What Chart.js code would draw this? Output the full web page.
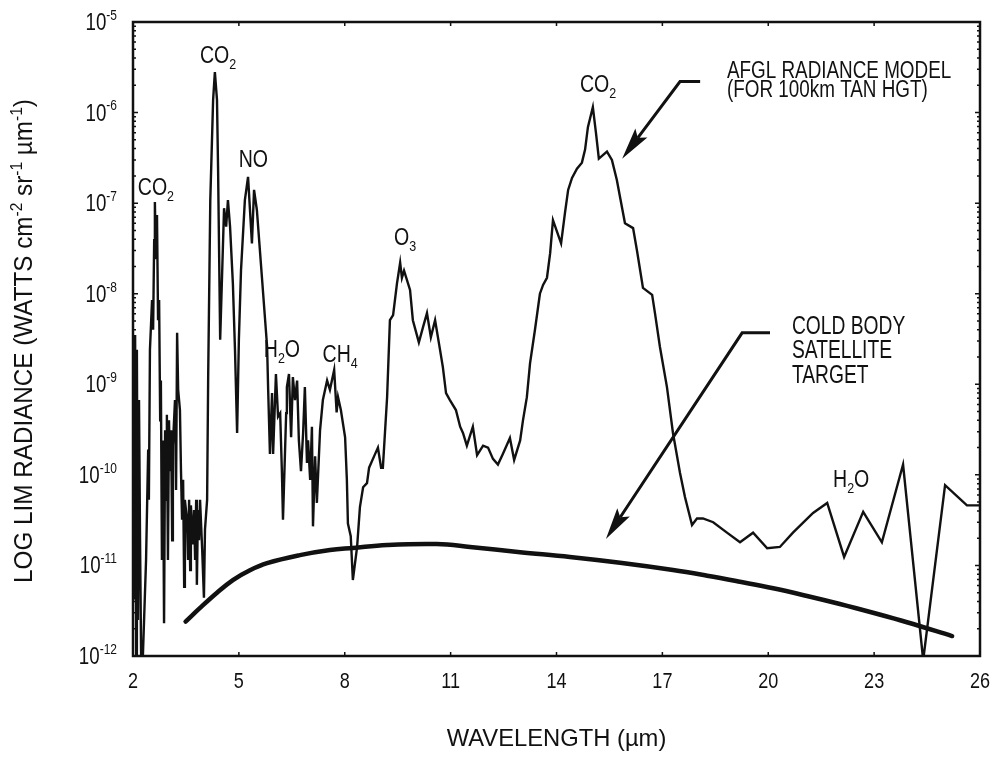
<!DOCTYPE html>
<html>
<head>
<meta charset="utf-8">
<script src="https://cdn.jsdelivr.net/npm/chart.js@4.4.1/dist/chart.umd.min.js"></script>
<style>
html, body { margin: 0; padding: 0; background: #fff; }
</style>
</head>
<body>
<canvas id="radChart" width="992" height="757"></canvas>
<script>
// AFGL radiance model, 100 km tangent height (wavelength in um, radiance W cm-2 sr-1 um-1)
var specWave = [
  2.00, 2.03, 2.06, 2.09, 2.11, 2.14, 2.17, 2.20, 2.23, 2.28,
  2.37, 2.43, 2.45, 2.48, 2.54, 2.57, 2.60, 2.62, 2.65, 2.68,
  2.71, 2.74, 2.77, 2.79, 2.82, 2.85, 2.88, 2.91, 2.94, 2.96,
  2.99, 3.02, 3.05, 3.08, 3.11, 3.13, 3.19, 3.22, 3.25, 3.28,
  3.33, 3.36, 3.39, 3.42, 3.45, 3.47, 3.53, 3.56, 3.59, 3.62,
  3.64, 3.70, 3.73, 3.76, 3.79, 3.81, 3.84, 3.87, 3.90, 3.96,
  4.01, 4.04, 4.10, 4.13, 4.19, 4.27, 4.32, 4.38, 4.41, 4.47,
  4.58, 4.64, 4.69, 4.75, 4.83, 4.89, 4.95, 5.00, 5.06, 5.17,
  5.26, 5.37, 5.43, 5.51, 5.66, 5.80, 5.83, 5.88, 5.94, 5.97,
  6.05, 6.11, 6.17, 6.22, 6.25, 6.34, 6.36, 6.42, 6.48, 6.53,
  6.59, 6.65, 6.70, 6.76, 6.82, 6.87, 6.93, 6.96, 7.02, 7.07,
  7.10, 7.16, 7.21, 7.30, 7.38, 7.50, 7.58, 7.70, 7.77, 7.81,
  7.89, 8.01, 8.06, 8.09, 8.17, 8.23, 8.35, 8.43, 8.52, 8.63,
  8.69, 8.83, 8.94, 9.03, 9.08, 9.20, 9.28, 9.37, 9.48, 9.57,
  9.62, 9.68, 9.85, 9.93, 10.10, 10.22, 10.33, 10.44, 10.56, 10.70,
  10.78, 10.87, 10.98, 11.15, 11.27, 11.35, 11.46, 11.63, 11.75, 11.92,
  12.06, 12.20, 12.34, 12.48, 12.68, 12.80, 12.97, 13.05, 13.16, 13.25,
  13.39, 13.53, 13.62, 13.73, 13.82, 13.90, 14.13, 14.24, 14.33, 14.44,
  14.58, 14.72, 14.81, 14.89, 15.03, 15.12, 15.20, 15.43, 15.57, 15.71,
  15.80, 15.94, 16.17, 16.28, 16.45, 16.71, 16.79, 16.93, 17.13, 17.30,
  17.50, 17.64, 17.84, 17.98, 18.15, 18.44, 18.83, 19.20, 19.57, 19.97,
  20.33, 20.70, 21.27, 21.67, 22.15, 22.69, 23.22, 23.82, 24.39, 25.01, 25.63, 26.00
];
var specRad = [
  3.1e-9, 4.2e-12, 3.5e-9, 1e-12, 2.4e-9, 2.5e-12, 6.7e-10, 1.9e-11, 1e-12, 1e-12,
  1.15e-11, 1.9e-10, 5.3e-11, 2.4e-9, 8.5e-9, 4.0e-9, 3.9e-8, 1.03e-7, 2.4e-8, 7.4e-8,
  5.1e-9, 8.5e-9, 4.0e-10, 1.1e-9, 1.15e-11, 2.4e-10, 2.3e-12, 3.1e-10, 5.3e-11, 4.6e-10,
  1.15e-11, 4.0e-10, 1.1e-10, 3.1e-10, 1.9e-11, 2.1e-10, 6.7e-10, 6.8e-11, 3.7e-9, 8.7e-10,
  5.2e-10, 1.1e-10, 3.2e-11, 8.8e-11, 5.8e-12, 5.3e-11, 3.2e-11, 1.15e-11, 5.3e-11, 8.9e-12,
  4.6e-11, 1.7e-11, 4.1e-11, 1.15e-11, 5.3e-11, 6.1e-12, 4.1e-11, 1.9e-11, 5.3e-11, 1.5e-11,
  4.4e-12, 2.5e-11, 5.3e-11, 1.2e-9, 1.08e-7, 1.38e-6, 2.8e-6, 1.38e-6, 2.5e-7, 3.1e-9,
  8.8e-8, 5.5e-8, 1.08e-7, 5.5e-8, 1.3e-8, 2.4e-9, 2.9e-10, 3.1e-9, 1.8e-8, 1.08e-7,
  1.95e-7, 3.6e-8, 1.4e-7, 8.4e-8, 1.4e-8, 2.6e-9, 8.7e-10, 1.7e-10, 8.0e-10, 1.7e-10,
  1.3e-9, 4.4e-10, 4.8e-10, 1.05e-10, 3.2e-11, 4.8e-10, 9.3e-10, 1.3e-9, 2.6e-10, 1.2e-9,
  6.7e-10, 1.1e-9, 2.4e-10, 1.1e-10, 2.9e-10, 9.3e-10, 1.35e-10, 2.4e-10, 8.8e-11, 3.4e-10,
  2.7e-11, 1.6e-10, 4.9e-11, 3.1e-10, 6.7e-10, 1.1e-9, 8.7e-10, 1.44e-9, 4.9e-10, 7.2e-10,
  5.2e-10, 2.6e-10, 8.8e-11, 2.9e-11, 2.1e-11, 6.9e-12, 1.6e-11, 4.4e-11, 7.3e-11, 8.1e-11,
  1.2e-10, 1.6e-10, 2.0e-10, 1.2e-10, 1.2e-10, 7.2e-10, 5.1e-9, 5.8e-9, 1.3e-8, 2.2e-8,
  1.5e-8, 1.8e-8, 1.1e-8, 5.1e-9, 2.9e-9, 4.3e-9, 6.1e-9, 3.3e-9, 5.1e-9, 2.4e-9,
  1.55e-9, 8.0e-10, 6.7e-10, 5.2e-10, 3.4e-10, 2.9e-10, 2.1e-10, 3.4e-10, 1.65e-10, 2.1e-10,
  2.0e-10, 1.5e-10, 1.3e-10, 1.7e-10, 2.55e-10, 1.46e-10, 2.4e-10, 4.0e-10, 7.2e-10, 1.7e-9,
  4.0e-9, 1.0e-8, 1.25e-8, 1.5e-8, 2.8e-8, 6.5e-8, 3.6e-8, 7.8e-8, 1.4e-7, 1.9e-7,
  2.4e-7, 2.8e-7, 3.9e-7, 6.9e-7, 1.15e-6, 5.9e-7, 3.1e-7, 3.7e-7, 3.0e-7, 1.8e-7,
  1.17e-7, 6.0e-8, 5.3e-8, 3.0e-8, 1.16e-8, 9.7e-9, 6.1e-9, 2.6e-9, 9.3e-10, 2.9e-10,
  1.05e-10, 5.7e-11, 2.8e-11, 3.3e-11, 3.3e-11, 3.0e-11, 2.3e-11, 1.8e-11, 2.3e-11, 1.55e-11,
  1.6e-11, 2.3e-11, 3.8e-11, 4.9e-11, 1.24e-11, 3.9e-11, 1.8e-11, 1.3e-10, 9e-13, 7.7e-11, 4.6e-11, 4.6e-11
];

// cold body satellite target
var bodyWave = [3.49, 3.90, 4.38, 4.83, 5.30, 5.80, 6.73, 7.58, 8.23, 9.20, 10.61, 11.55, 12.97,
  14.38, 15.80, 17.30, 18.27, 19.20, 20.14, 21.10, 22.03, 22.97, 23.93, 25.21];
var bodyRad = [2.4e-12, 3.4e-12, 5.0e-12, 6.9e-12, 8.8e-12, 1.06e-11, 1.3e-11, 1.48e-11, 1.56e-11, 1.68e-11, 1.72e-11, 1.6e-11, 1.4e-11,
  1.24e-11, 1.07e-11, 8.9e-12, 7.7e-12, 6.6e-12, 5.6e-12, 4.6e-12, 3.75e-12, 3.0e-12, 2.36e-12, 1.66e-12];

var xTicks = [2, 5, 8, 11, 14, 17, 20, 23, 26];
var yTicks = [1e-5, 1e-6, 1e-7, 1e-8, 1e-9, 1e-10, 1e-11, 1e-12];
var yTickExp = ['-5', '-6', '-7', '-8', '-9', '-10', '-11', '-12'];

// labels: parts are [text, 0 normal / 1 subscript / 2 superscript]
var peakLabels = [
  { parts: [['CO', 0], ['2', 1]], x: 2.65, y: 1.23e-7 },
  { parts: [['CO', 0], ['2', 1]], x: 4.41, y: 3.5e-6 },
  { parts: [['NO', 0]], x: 5.41, y: 2.5e-7 },
  { parts: [['H', 0], ['2', 1], ['O', 0]], x: 6.22, y: 2.0e-9 },
  { parts: [['CH', 0], ['4', 1]], x: 7.87, y: 1.76e-9 },
  { parts: [['O', 0], ['3', 1]], x: 9.71, y: 3.45e-8 },
  { parts: [['CO', 0], ['2', 1]], x: 15.18, y: 1.69e-6 },
  { parts: [['H', 0], ['2', 1], ['O', 0]], x: 22.35, y: 7.3e-11 }
];
var notes = [
  { lines: ['AFGL RADIANCE MODEL', '(FOR 100km TAN HGT)'], x: 18.83, y: 2.4e-6, size: 23, gap: 18.5, squeeze: 0.82 },
  { lines: ['COLD BODY', 'SATELLITE', 'TARGET'], x: 20.67, y: 3.6e-9, size: 26, gap: 24.3, squeeze: 0.74 }
];
var arrows = [
  [[18.07, 2.2e-6], [17.50, 2.2e-6], [15.86, 3.1e-7]],
  [[20.05, 3.7e-9], [19.26, 3.7e-9], [15.40, 1.96e-11]]
];

var FONT = '"Liberation Sans", Arial, Helvetica, sans-serif';
var INK = '#111';

function toPoints(xs, ys) {
  return xs.map(function (x, i) { return { x: x, y: ys[i] }; });
}

function drawRuns(ctx, parts, x, y, size, squeeze, align) {
  var small = size * 0.64;
  var widths = [];
  var total = 0;
  parts.forEach(function (p) {
    ctx.font = (p[1] ? small : size) + 'px ' + FONT;
    var w = ctx.measureText(p[0]).width * squeeze;
    widths.push(w);
    total += w;
  });
  var cx = align === 'left' ? x : (align === 'right' ? x - total : x - total / 2);
  parts.forEach(function (p, i) {
    var dy = p[1] === 1 ? size * 0.26 : (p[1] === 2 ? -size * 0.42 : 0);
    ctx.font = (p[1] ? small : size) + 'px ' + FONT;
    ctx.save();
    ctx.translate(cx, y + dy);
    ctx.scale(squeeze, 1);
    ctx.fillText(p[0], 0, 0);
    ctx.restore();
    cx += widths[i];
  });
}

var decor = {
  id: 'decor',
  afterDraw: function (chart) {
    var ctx = chart.ctx;
    var a = chart.chartArea;
    var xs = chart.scales.x;
    var ys = chart.scales.y;
    ctx.save();
    ctx.fillStyle = INK;
    ctx.strokeStyle = INK;
    ctx.textBaseline = 'alphabetic';

    // frame
    ctx.lineWidth = 2.5;
    ctx.strokeRect(a.left, a.top, a.right - a.left, a.bottom - a.top);

    // tick marks
    ctx.lineWidth = 1.5;
    ctx.beginPath();
    xTicks.forEach(function (t) {
      var px = xs.getPixelForValue(t);
      ctx.moveTo(px, a.bottom); ctx.lineTo(px, a.bottom - 4);
      ctx.moveTo(px, a.top); ctx.lineTo(px, a.top + 4);
    });
    for (var e = -12; e < -5; e++) {
      for (var m = 1; m < 10; m++) {
        var py = ys.getPixelForValue(m * Math.pow(10, e));
        var len = m === 1 ? 5 : 3;
        ctx.moveTo(a.left, py); ctx.lineTo(a.left + len, py);
        ctx.moveTo(a.right, py); ctx.lineTo(a.right - len, py);
      }
    }
    ctx.stroke();

    // y tick labels
    yTicks.forEach(function (v, i) {
      var py = ys.getPixelForValue(v);
      drawRuns(ctx, [['10', 0], [yTickExp[i], 2]], a.left - 16, py + 8, 24, 0.78, 'right');
    });
    // x tick labels
    xTicks.forEach(function (t) {
      drawRuns(ctx, [[String(t), 0]], xs.getPixelForValue(t), a.bottom + 32, 22, 0.82, 'center');
    });

    // axis titles
    drawRuns(ctx, [['WAVELENGTH (\u00b5m)', 0]], (a.left + a.right) / 2, a.bottom + 90, 24.5, 0.97, 'center');
    ctx.save();
    ctx.translate(32, (a.top + a.bottom) / 2 + 2);
    ctx.rotate(-Math.PI / 2);
    drawRuns(ctx, [['LOG LIM RADIANCE (WATTS cm', 0], ['-2', 2], [' sr', 0], ['-1', 2], [' \u00b5m', 0], ['-1', 2], [')', 0]],
      0, 0, 25, 0.97, 'center');
    ctx.restore();

    // peak labels
    peakLabels.forEach(function (l) {
      drawRuns(ctx, l.parts, xs.getPixelForValue(l.x), ys.getPixelForValue(l.y), 23, 0.85, 'center');
    });

    // notes
    notes.forEach(function (n) {
      var px = xs.getPixelForValue(n.x);
      var py = ys.getPixelForValue(n.y);
      n.lines.forEach(function (s, i) {
        drawRuns(ctx, [[s, 0]], px, py + i * n.gap, n.size, n.squeeze, 'left');
      });
    });

    // arrows
    arrows.forEach(function (pts) {
      var p = pts.map(function (q) { return [xs.getPixelForValue(q[0]), ys.getPixelForValue(q[1])]; });
      var tip = p[p.length - 1];
      var prev = p[p.length - 2];
      var dx = tip[0] - prev[0], dy = tip[1] - prev[1];
      var d = Math.sqrt(dx * dx + dy * dy);
      var ux = dx / d, uy = dy / d;
      var hl = 32, hw = 7.5;
      var bx = tip[0] - ux * hl, by = tip[1] - uy * hl;
      ctx.lineWidth = 3;
      ctx.lineJoin = 'miter';
      ctx.beginPath();
      ctx.moveTo(p[0][0], p[0][1]);
      for (var k = 1; k < p.length - 1; k++) ctx.lineTo(p[k][0], p[k][1]);
      ctx.lineTo(bx + ux * 6, by + uy * 6);
      ctx.stroke();
      ctx.beginPath();
      ctx.moveTo(tip[0], tip[1]);
      ctx.lineTo(bx - uy * hw, by + ux * hw);
      ctx.lineTo(bx + ux * 6, by + uy * 6);
      ctx.lineTo(bx + uy * hw, by - ux * hw);
      ctx.closePath();
      ctx.fill();
    });

    ctx.restore();
  }
};

var radChart = new Chart('radChart', {
  type: 'line',
  data: {
    datasets: [{
      data: toPoints(specWave, specRad),
      borderColor: INK,
      borderWidth: 2.4,
      pointRadius: 0,
      tension: 0,
      fill: false
    }, {
      data: toPoints(bodyWave, bodyRad),
      borderColor: INK,
      borderWidth: 4.5,
      borderCapStyle: 'round',
      pointRadius: 0,
      tension: 0.4,
      fill: false
    }]
  },
  options: {
    responsive: false,
    animation: false,
    layout: { padding: { left: 133, right: 12, top: 22, bottom: 101 } },
    scales: {
      x: { type: 'linear', min: 2, max: 26, display: false },
      y: { type: 'logarithmic', min: 1e-12, max: 1e-5, display: false }
    },
    plugins: {
      legend: { display: false },
      tooltip: { enabled: false }
    }
  },
  plugins: [decor]
});
</script>
</body>
</html>
